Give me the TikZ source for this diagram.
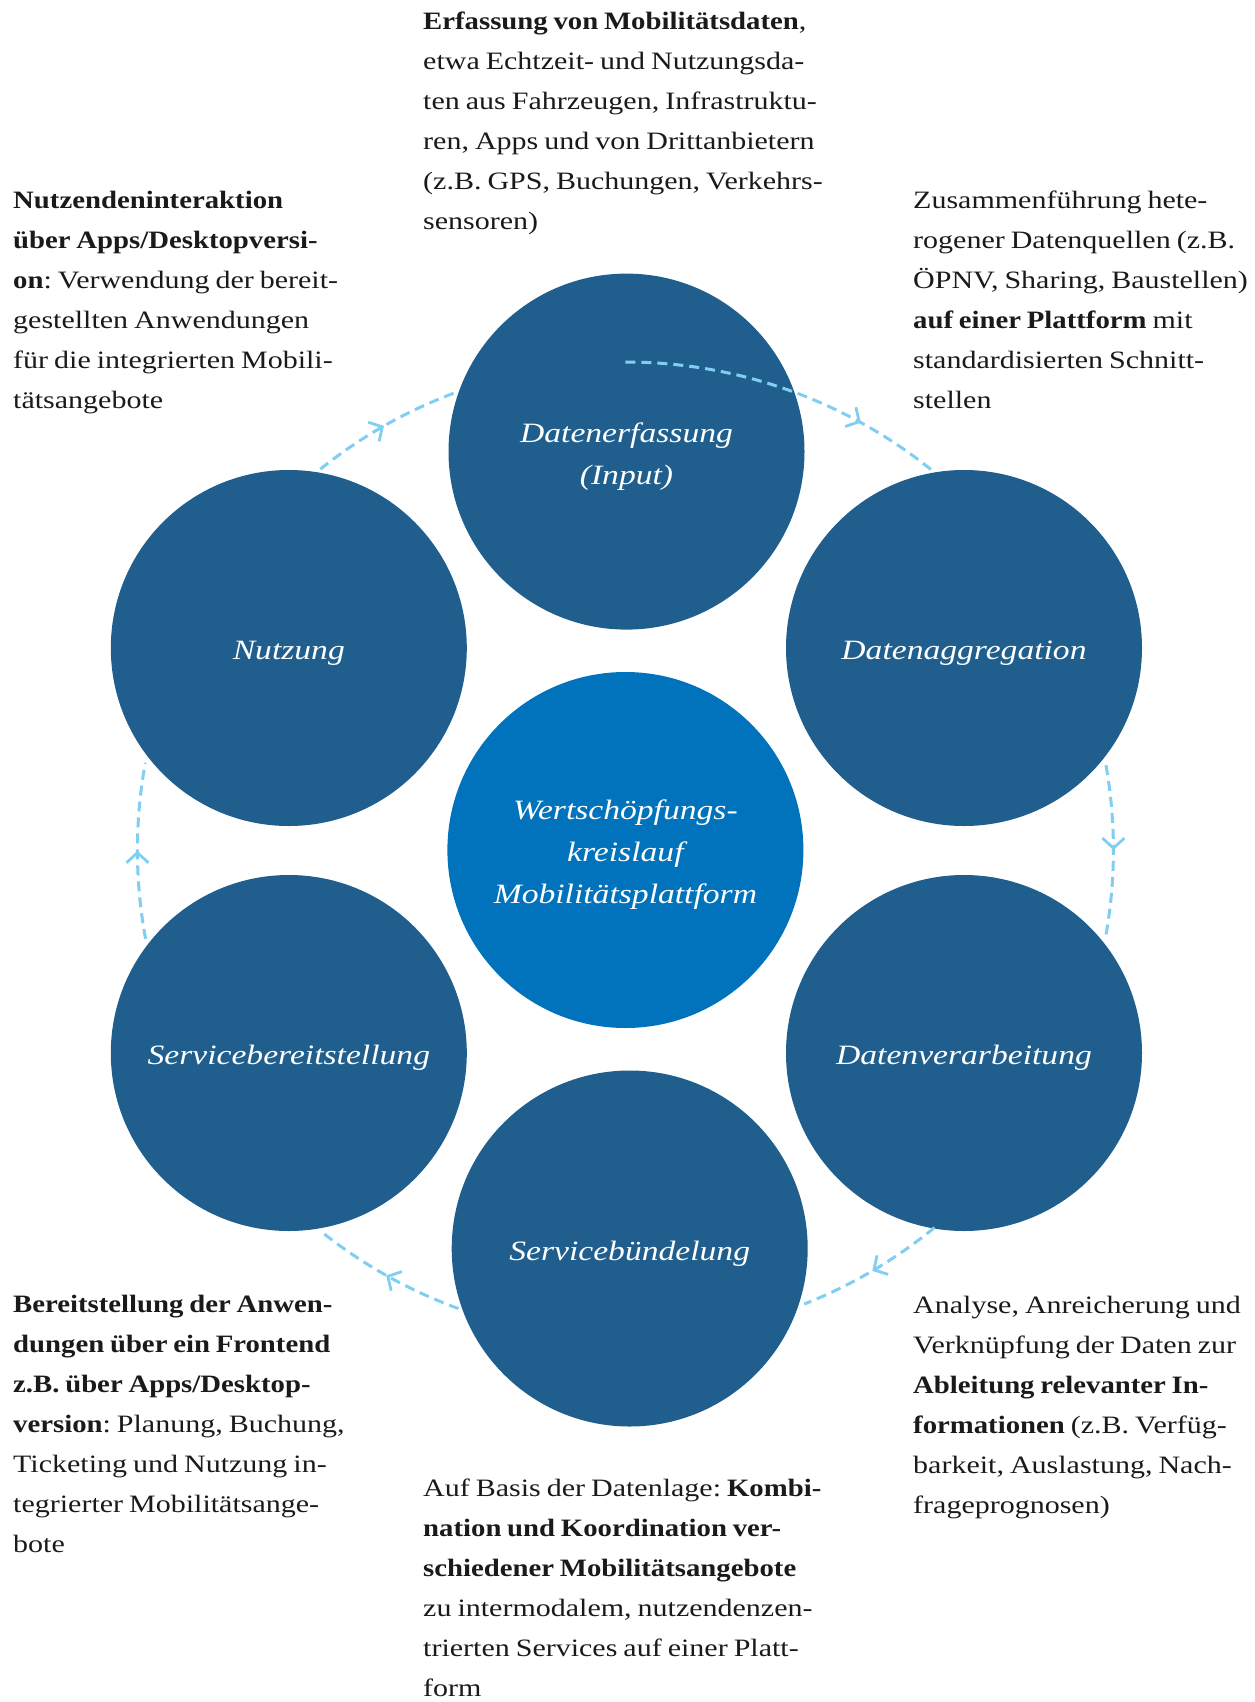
\documentclass[tikz,border=0pt]{standalone}
\usepackage{fontspec}
\setmainfont{Liberation Serif}[FakeStretch=1.2,WordSpace=0.8,BoldFeatures={FakeStretch=1.15}]
\usetikzlibrary{arrows.meta,calc,decorations.markings}
\frenchspacing

\definecolor{stageblue}{RGB}{32,95,141}
\definecolor{hubblue}{RGB}{0,115,188}
\definecolor{ringblue}{RGB}{128,206,242}
\definecolor{notegray}{RGB}{26,26,26}
\newcommand{\firstline}{\rule{0pt}{20pt}}
\newcommand{\stagetop}{\rule{0pt}{29pt}}

\begin{document}
\begin{tikzpicture}[x=1pt,y=1pt,
  stage/.style={circle,fill=stageblue,minimum size=356pt,inner sep=0pt,text=white,align=center,
    font=\fontsize{28}{42}\selectfont\itshape},
  hub/.style={stage,fill=hubblue},
  note/.style={anchor=north west,inner sep=0pt,align=left,text=notegray,
    font=\fontsize{25}{40}\selectfont},
  ring/.style={draw=ringblue,line width=3pt,dash pattern=on 10pt off 6pt}]
\useasboundingbox (0,0) rectangle (1255,-1702);

\node [hub] (hub) at (625.4,-850) {\stagetop Wertschöpfungs-\\kreislauf\\Mobilitätsplattform};
\node [stage] (erfassung) at (626.5,-451.6) {\stagetop Datenerfassung\\(Input)};
\node [stage] (aggregation) at (964,-648) {\stagetop Datenaggregation};
\node [stage] (verarbeitung) at (964,-1053) {\stagetop Datenverarbeitung};
\node [stage] (buendelung) at (629.7,-1248.5) {\stagetop Servicebündelung};
\node [stage] (bereitstellung) at (288.8,-1053) {\stagetop Servicebereitstellung};
\node [stage] (nutzung) at (288.8,-648) {\stagetop Nutzung};

\foreach \a/\b/\p in {90/51/0.74, 10/-10/0.5, -50.7/-68.5/0.5, -110/-128.7/0.5, 190.5/169.7/0.5, 128.7/110.6/0.5}
  \draw [ring, postaction={decorate,decoration={markings,
      mark=at position \p with {\arrow[ringblue,solid,line width=2.8pt]{Straight Barb[length=10pt,width=22pt]}}}}]
    ($(hub)+(\a:488pt)$) arc [start angle=\a, end angle=\b, radius=488pt];

\node [note] (erfassungtxt) at (423,-9.3) {\firstline\textbf{Erfassung von Mobilitätsdaten},\\
  etwa Echtzeit- und Nutzungsda-\\ten aus Fahrzeugen, Infrastruktu-\\
  ren, Apps und von Drittanbietern\\(z.B. GPS, Buchungen, Verkehrs-\\sensoren)};
\node [note] (nutzungtxt) at (13,-188) {\firstline\textbf{Nutzendeninteraktion}\\
  \textbf{über Apps/Desktopversi-}\\\textbf{on}: Verwendung der bereit-\\
  gestellten Anwendungen\\für die integrierten Mobili-\\tätsangebote};
\node [note] (aggregationtxt) at (913,-188) {\firstline Zusammenführung hete-\\
  rogener Datenquellen (z.B.\\ÖPNV, Sharing, Baustellen)\\
  \textbf{auf einer Plattform} mit\\standardisierten Schnitt-\\stellen};
\node [note] (bereitstellungtxt) at (13,-1292) {\firstline\textbf{Bereitstellung der Anwen-}\\
  \textbf{dungen über ein Frontend}\\\textbf{z.B. über Apps/Desktop-}\\
  \textbf{version}: Planung, Buchung,\\Ticketing und Nutzung in-\\
  tegrierter Mobilitätsange-\\bote};
\node [note] (verarbeitungtxt) at (913,-1293) {\firstline Analyse, Anreicherung und\\
  Verknüpfung der Daten zur\\\textbf{Ableitung relevanter In-}\\
  \textbf{formationen} (z.B. Verfüg-\\barkeit, Auslastung, Nach-\\frageprognosen)};
\node [note] (buendelungtxt) at (423,-1476) {\firstline Auf Basis der Datenlage: \textbf{Kombi-}\\
  \textbf{nation und Koordination ver-}\\\textbf{schiedener Mobilitätsangebote}\\
  zu intermodalem, nutzendenzen-\\trierten Services auf einer Platt-\\form};
\end{tikzpicture}
\end{document}
